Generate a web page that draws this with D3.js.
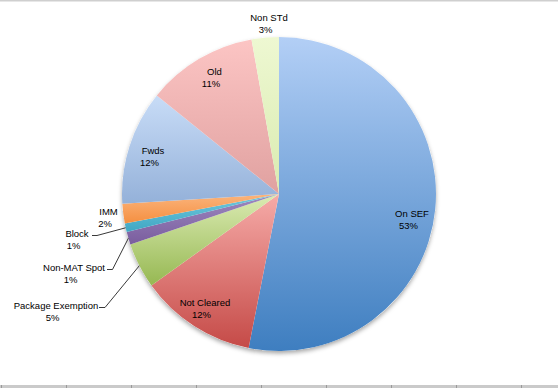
<!DOCTYPE html>
<html>
<head>
<meta charset="utf-8">
<script src="https://cdn.jsdelivr.net/npm/d3@7"></script>
<style>
  html, body { margin: 0; padding: 0; background: #fff; }
  svg { display: block; }
  text { font-family: "Liberation Sans", Arial, sans-serif; font-size: 9.5px; fill: #000; }
</style>
</head>
<body>
<svg id="chart" width="558" height="388"></svg>
<script>
// ---- data ----
const categories = ["On SEF", "Not Cleared", "Package Exemption", "Non-MAT Spot", "Block", "IMM", "Fwds", "Old", "Non STd"];
const shares = [53.1, 12.0, 4.7, 1.3, 0.9, 2.0, 11.8, 11.4, 2.8];
const pctLabels = ["53%", "12%", "5%", "1%", "1%", "2%", "12%", "11%", "3%"];
// ---- styles ----
const colorTop = ["#b3cff6", "#f6aba8", "#dbebb3", "#9d89c0", "#72c8de", "#fbb47c", "#c8dcf7", "#fcc5c4", "#eef8d2"];
const colorBottom = ["#3e7ec0", "#c54a47", "#96b852", "#7a5d9e", "#3fa7c3", "#f58f40", "#94b1d9", "#e0a1a0", "#d9ebb0"];
// label anchor positions (layout)
const labelPos = [
  [412, 217], [205, 306], [56, 309], [74, 271], [77, 237], [108.5, 215], [153, 154], [214.5, 75], [269, 21]
];
const leaderIdx = { 2: [99, 307.5, 105], 3: [107, 269.5, 112.5], 4: [92, 235.5, 97] };

const svg = d3.select("#chart");
const W = 558, H = 388;
const cx = 279, cy = 194, R = 157;

// frame lines (spreadsheet background)
svg.append("rect").attr("x", 0).attr("y", 0).attr("width", W).attr("height", 1.5).attr("fill", "#cfcfcf");
svg.append("rect").attr("x", 0).attr("y", 385).attr("width", W).attr("height", 3).attr("fill", "#cacaca");
d3.range(0, W, 65).forEach(x => {
  svg.append("rect").attr("x", x + 1).attr("y", 385).attr("width", 1).attr("height", 3).attr("fill", "#9a9a9a");
});

const defs = svg.append("defs");
const f = defs.append("filter").attr("id", "shadow").attr("x", "-10%").attr("y", "-10%").attr("width", "120%").attr("height", "125%");
f.append("feDropShadow").attr("dx", 0).attr("dy", 2.5).attr("stdDeviation", 2).attr("flood-color", "#000").attr("flood-opacity", 0.35);

categories.forEach((c, i) => {
  const g = defs.append("linearGradient").attr("id", "g" + i)
    .attr("x1", 0).attr("y1", 0).attr("x2", 0).attr("y2", 1);
  g.append("stop").attr("offset", "0%").attr("stop-color", colorTop[i]);
  g.append("stop").attr("offset", "100%").attr("stop-color", colorBottom[i]);
});

const pie = d3.pie().sort(null).value(d => d)(shares);
const arc = d3.arc().innerRadius(0).outerRadius(R);

const gp = svg.append("g").attr("transform", `translate(${cx},${cy})`);
gp.append("circle").attr("r", R).attr("fill", "#fff").attr("filter", "url(#shadow)");
gp.selectAll("path").data(pie).enter().append("path")
  .attr("d", arc)
  .attr("fill", (d, i) => `url(#g${i})`);

// leader lines
Object.keys(leaderIdx).forEach(k => {
  const i = +k;
  const d = pie[i];
  const a = (d.startAngle + d.endAngle) / 2;
  const px = cx + R * Math.sin(a), py = cy - R * Math.cos(a);
  const [x0, y0, x1] = leaderIdx[k];
  svg.append("polyline")
    .attr("points", `${x0},${y0} ${x1},${y0} ${px},${py}`)
    .attr("fill", "none").attr("stroke", "#222").attr("stroke-width", 0.9);
});

// labels
const lab = svg.append("g");
categories.forEach((c, i) => {
  const [x, y] = labelPos[i];
  const t = lab.append("text").attr("text-anchor", "middle").attr("x", x).attr("y", y);
  t.append("tspan").attr("x", x).attr("dy", 0).text(c);
  t.append("tspan").attr("x", x - 3.5).attr("dy", 12).text(pctLabels[i]);
});
</script>
</body>
</html>
